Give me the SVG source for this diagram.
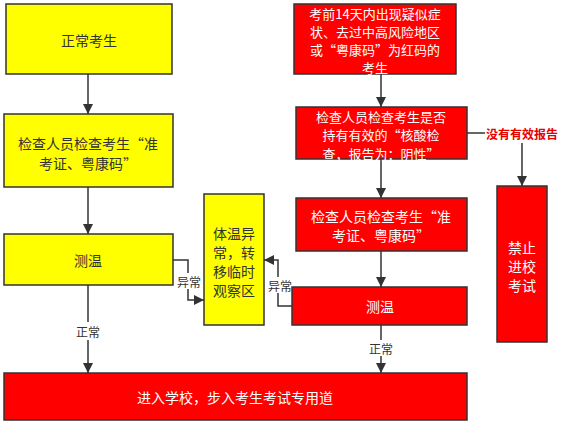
<svg xmlns="http://www.w3.org/2000/svg" width="561" height="422" viewBox="0 0 561 422">
<style>
.y{fill:#ffff00;stroke:#333;stroke-width:1.5}
.r{fill:#ff0000;stroke:#333;stroke-width:1.5}
text{font-family:"Noto Sans CJK SC","Liberation Sans",sans-serif;font-size:14px;text-anchor:middle;dominant-baseline:central}
.ty{fill:#333}
.tr{fill:#fff}
.sm{font-size:13px}
.lb{fill:#333;font-size:12px}
.c{fill:none;stroke:#333;stroke-width:1.5}
</style>
<defs>
<marker id="a" viewBox="0 0 10 10" refX="10" refY="5" markerWidth="10" markerHeight="10" markerUnits="userSpaceOnUse" orient="auto"><path d="M0,0L10,5L0,10z" fill="#333"/></marker>
</defs>
<rect width="561" height="422" fill="#fff"/>
<g id="connectors">
<path class="c" d="M88,74V114" marker-end="url(#a)"/>
<path class="c" d="M88,187V234" marker-end="url(#a)"/>
<path class="c" d="M88,285V373" marker-end="url(#a)"/>
<path class="c" d="M173,260H188V300H204" marker-end="url(#a)"/>
<path class="c" d="M292,306H278V260H264" marker-end="url(#a)"/>
<path class="c" d="M381,74V107" marker-end="url(#a)"/>
<path class="c" d="M381,159V198" marker-end="url(#a)"/>
<path class="c" d="M381,251V287" marker-end="url(#a)"/>
<path class="c" d="M381,325V373" marker-end="url(#a)"/>
<path class="c" d="M467,133H485"/>
<path class="c" d="M522,143V186" marker-end="url(#a)"/>
<rect x="78" y="322" width="20" height="18" fill="#fff"/>
<text class="lb" x="88" y="331">正常</text>
<rect x="175" y="273" width="26" height="16" fill="#fff"/>
<text class="lb" x="189" y="281">异常</text>
<rect x="266" y="277" width="28" height="16" fill="#fff"/>
<text class="lb" x="280" y="285">异常</text>
<rect x="369" y="340" width="24" height="16" fill="#fff"/>
<text class="lb" x="381" y="348">正常</text>
<text x="522" y="133" style="fill:#e60000;font-weight:bold;font-size:12px">没有有效报告</text>
</g>
<g id="n1"><rect class="y" x="6" y="4" width="166" height="70"/><text class="ty" x="89" y="40">正常考生</text></g>
<g id="n2"><rect class="y" x="4" y="114" width="169" height="73"/><text class="ty" x="88" y="143">检查人员检查考生“准</text><text class="ty" x="88" y="163">考证、粤康码”</text></g>
<g id="n3"><rect class="y" x="4" y="234" width="169" height="51"/><text class="ty" x="88" y="260">测温</text></g>
<g id="n4"><rect class="y" x="204" y="194" width="60" height="131"/><text class="ty" x="234" y="233">体温异</text><text class="ty" x="234" y="252">常，转</text><text class="ty" x="234" y="271">移临时</text><text class="ty" x="234" y="290">观察区</text></g>
<g id="n5"><rect class="r" x="4" y="373" width="463" height="47"/><text class="tr" x="235" y="397">进入学校，步入考生考试专用道</text></g>
<g id="n6"><rect class="r" x="294" y="4" width="162" height="70"/><text class="tr sm" x="375" y="13.5">考前14天内出现疑似症</text><text class="tr sm" x="375" y="31.5">状、去过中高风险地区</text><text class="tr sm" x="375" y="49.5">或“粤康码”为红码的</text><text class="tr sm" x="375" y="67">考生</text></g>
<g id="n7"><rect class="r" x="296" y="107" width="171" height="52"/><text class="tr sm" x="381" y="116">检查人员检查考生是否</text><text class="tr sm" x="381" y="134.5">持有有效的“核酸检</text><text class="tr sm" x="381" y="153">查，报告为：阴性”</text></g>
<g id="n8"><rect class="r" x="296" y="198" width="171" height="53"/><text class="tr" x="381" y="216">检查人员检查考生“准</text><text class="tr" x="381" y="235">考证、粤康码”</text></g>
<g id="n9"><rect class="r" x="292" y="287" width="175" height="38"/><text class="tr" x="380" y="306">测温</text></g>
<g id="n10"><rect class="r" x="497" y="186" width="50" height="156"/><text class="tr" x="522" y="247">禁止</text><text class="tr" x="522" y="266">进校</text><text class="tr" x="522" y="285">考试</text></g>
</svg>
